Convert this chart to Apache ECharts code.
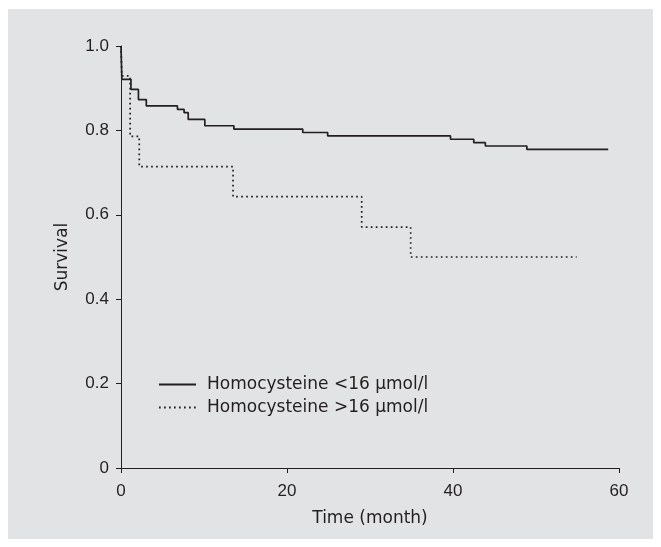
<!DOCTYPE html>
<html>
<head>
<meta charset="utf-8">
<script src="https://cdn.jsdelivr.net/npm/echarts@6/dist/echarts.min.js"></script>
<style>
  html, body { margin: 0; padding: 0; background: #ffffff; }
  #panel { position: absolute; left: 8px; top: 9px; width: 645px; height: 530px; background: #e2e3e4; }
  #chart { position: absolute; left: 0; top: 0; width: 661px; height: 547px; }
</style>
</head>
<body>
<div id="panel"></div>
<div id="chart"></div>
<script>
// Kaplan-Meier steps (time in months, survival after event)
var lowTime = [0, 0.1, 1.2, 2.1, 3.05, 6.8, 7.6, 8.1, 10.1, 13.6, 21.9, 24.9, 39.7, 42.5, 43.9, 48.9, 58.7];
var lowSurv = [1.0, 0.921, 0.897, 0.873, 0.858, 0.850, 0.842, 0.826, 0.811, 0.803, 0.795, 0.787, 0.779, 0.771, 0.763, 0.755, 0.755];
var highTime = [0, 0.1, 1.1, 2.2, 13.5, 29.0, 34.9, 54.9];
var highSurv = [1.0, 0.929, 0.786, 0.714, 0.643, 0.571, 0.500, 0.500];
var xTicks = [0, 20, 40, 60];
var yTicks = [0, 0.2, 0.4, 0.6, 0.8, 1.0];
var seriesNames = ["Homocysteine <16 \u03bcmol/l", "Homocysteine >16 \u03bcmol/l"];

var ink = "#231f20";
var tickFont = "Liberation Sans, Arial, sans-serif";
var textFont = "DejaVu Sans, sans-serif";

function pairs(xs, ys) {
  return xs.map(function (x, i) { return [x, ys[i]]; });
}

var chart = echarts.init(document.getElementById("chart"));
chart.setOption({
  backgroundColor: "transparent",
  animation: false,
  grid: { left: 121, right: 42, top: 46, bottom: 79 },
  legend: {
    orient: "vertical",
    left: 153,
    top: 371,
    itemWidth: 37,
    itemHeight: 10,
    itemGap: 6,
    itemStyle: { opacity: 0 },
    textStyle: { color: ink, fontSize: 17, fontFamily: textFont, padding: [0, 0, 0, 6] },
    data: seriesNames
  },
  xAxis: {
    type: "value",
    min: xTicks[0],
    max: xTicks[xTicks.length - 1],
    interval: 20,
    name: "Time (month)",
    nameLocation: "middle",
    nameGap: 42,
    nameTextStyle: { color: ink, fontSize: 17, fontFamily: textFont },
    axisLine: { lineStyle: { color: ink, width: 1 } },
    axisTick: { show: true, length: 5, lineStyle: { color: ink } },
    axisLabel: { color: ink, fontSize: 17, fontFamily: tickFont, margin: 15 },
    splitLine: { show: false }
  },
  yAxis: {
    type: "value",
    min: yTicks[0],
    max: yTicks[yTicks.length - 1],
    interval: 0.2,
    name: "Survival",
    nameLocation: "middle",
    nameGap: 50,
    nameRotate: 90,
    nameTextStyle: { color: ink, fontSize: 17, fontFamily: textFont },
    axisLine: { show: true, lineStyle: { color: ink, width: 1 } },
    axisTick: { show: true, length: 5, lineStyle: { color: ink } },
    axisLabel: {
      color: ink, fontSize: 17, fontFamily: tickFont, margin: 12,
      formatter: function (v) { return v === 0 ? "0" : v.toFixed(1); }
    },
    splitLine: { show: false }
  },
  series: [
    {
      name: seriesNames[0],
      type: "line",
      step: "end",
      showSymbol: false,
      symbol: "none",
      color: ink,
      lineStyle: { color: ink, width: 1.7 },
      data: pairs(lowTime, lowSurv)
    },
    {
      name: seriesNames[1],
      type: "line",
      step: "end",
      showSymbol: false,
      symbol: "none",
      color: ink,
      lineStyle: { color: ink, width: 1.7, type: [1.7, 3.3] },
      data: pairs(highTime, highSurv)
    }
  ]
});
</script>
</body>
</html>
